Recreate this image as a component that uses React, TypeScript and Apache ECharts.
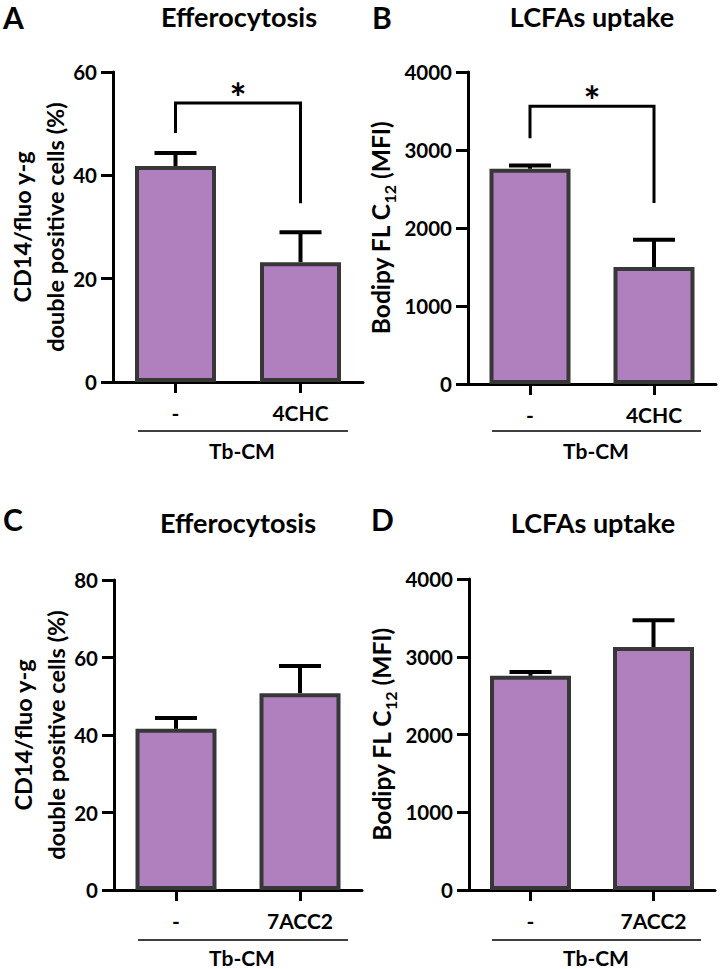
import React, { useEffect, useRef } from "react";
import * as echarts from "echarts";

// ---------- data ----------
const categoriesTop = ["-", "4CHC"];
const categoriesBottom = ["-", "7ACC2"];

const effMeanA = [41.8, 23.2];
const effErrA = [2.5, 5.8];
const lcfaMeanB = [2760, 1500];
const lcfaErrB = [40, 350];
const effMeanC = [41.6, 50.8];
const effErrC = [2.8, 7.0];
const lcfaMeanD = [2755, 3125];
const lcfaErrD = [48, 345];

// significance brackets: [left leg bottom, bracket top, right leg bottom]
const bracketA = [48.2, 54.0, 34.6];
const bracketB = [3150, 3560, 2320];

const panelLetters = ["A", "B", "C", "D"];
const panelTitles = ["Efferocytosis", "LCFAs uptake", "Efferocytosis", "LCFAs uptake"];
const groupLabel = "Tb-CM";
const effAxisName = "CD14/fluo y-g\ndouble positive cells (%)";
const lcfaAxisName = "Bodipy FL C{sub|12} (MFI)";
const sigLabel = "*";

const yRanges = [
  { min: 0, max: 60, interval: 20 },
  { min: 0, max: 4000, interval: 1000 },
  { min: 0, max: 80, interval: 20 },
  { min: 0, max: 4000, interval: 1000 },
];

// ---------- style ----------
const FONT = "Lato, 'Open Sans', sans-serif";
const BAR_FILL = "#b07fbe";
const BAR_BORDER = "#373737";

const grids = [
  { left: 113, top: 72, width: 250, height: 310 },
  { left: 468, top: 72, width: 248, height: 312 },
  { left: 114, top: 580, width: 248, height: 310 },
  { left: 469, top: 579, width: 246, height: 311 },
];

const letterPos = [
  [3, 17],
  [372, 17],
  [3, 519],
  [371, 519],
];
const titlePos = [
  [239, 16.5],
  [592, 16.5],
  [238, 522],
  [593, 522],
];
const groupLinePos = [
  [138, 348, 431],
  [492, 701, 431],
  [138, 348, 940],
  [492, 701, 940],
];
const groupLabelPos = [
  [242, 450],
  [596, 450],
  [242, 957],
  [596, 957],
];

function errorRender(params: any, api: any) {
  const x = api.value(0);
  const m = api.value(1);
  const e = api.value(2);
  const base = api.coord([x, m]);
  const top = api.coord([x, m + e]);
  const half = 21;
  const st = { stroke: "#000", lineWidth: 4, fill: null };
  return {
    type: "group",
    children: [
      { type: "line", shape: { x1: base[0], y1: base[1], x2: top[0], y2: top[1] }, style: st },
      { type: "line", shape: { x1: top[0] - half, y1: top[1], x2: top[0] + half, y2: top[1] }, style: st },
    ],
  };
}

function bracketRender(params: any, api: any) {
  const lb = api.coord([0, api.value(1)]);
  const tl = api.coord([0, api.value(2)]);
  const tr = api.coord([1, api.value(2)]);
  const rb = api.coord([1, api.value(3)]);
  return {
    type: "group",
    children: [
      {
        type: "polyline",
        shape: { points: [lb, tl, tr, rb] },
        style: { stroke: "#000", lineWidth: 3, fill: null },
      },
      {
        type: "text",
        x: (tl[0] + tr[0]) / 2,
        y: tl[1] - 5,
        style: {
          text: sigLabel,
          fontSize: 40,
          fontWeight: "bold",
          fontFamily: FONT,
          fill: "#000",
          align: "center",
          verticalAlign: "middle",
          lineHeight: 24,
        },
      },
    ],
  };
}

export default function App() {
  const ref = useRef<HTMLDivElement>(null);

  useEffect(() => {
    if (!ref.current) return;
    const chart = echarts.init(ref.current, undefined, { renderer: "svg" });

    const means = [effMeanA, lcfaMeanB, effMeanC, lcfaMeanD];
    const errs = [effErrA, lcfaErrB, effErrC, lcfaErrD];
    const cats = [categoriesTop, categoriesTop, categoriesBottom, categoriesBottom];
    const brackets: (number[] | null)[] = [bracketA, bracketB, null, null];
    const names = [effAxisName, lcfaAxisName, effAxisName, lcfaAxisName];
    const nameGaps = [42, 71, 42, 71];
    const nameSizes = [23.5, 24.5, 23.5, 24.5];

    const axisLine = { show: true, lineStyle: { color: "#000", width: 3 } };
    const labelStyle = { color: "#000", fontSize: 20, fontWeight: "bold" as const, fontFamily: FONT };

    const xAxis = cats.map((c, i) => ({
      type: "category",
      gridIndex: i,
      data: c,
      axisLine,
      axisTick: { show: true, alignWithLabel: true, length: 11, lineStyle: { color: "#000", width: 3 } },
      axisLabel: { ...labelStyle, fontSize: 21, margin: 20 },
      splitLine: { show: false },
    }));

    const yAxis = yRanges.map((r, i) => ({
      type: "value",
      gridIndex: i,
      min: r.min,
      max: r.max,
      interval: r.interval,
      axisLine,
      axisTick: { show: true, length: 12, lineStyle: { color: "#000", width: 3 } },
      axisLabel: { ...labelStyle, fontSize: 20.5, margin: 16, formatter: (v: number) => String(v) },
      splitLine: { show: false },
      name: names[i],
      nameLocation: "middle",
      nameRotate: 90,
      nameGap: nameGaps[i],
      nameMoveOverlap: false,
      nameTextStyle: {
        color: "#000",
        fontSize: nameSizes[i],
        fontWeight: "bold",
        fontFamily: FONT,
        lineHeight: 33,
        rich: {
          sub: {
            color: "#000",
            fontSize: 16,
            fontWeight: "bold",
            fontFamily: FONT,
            verticalAlign: "bottom",
            lineHeight: 15,
          },
        },
      },
    }));

    const series: any[] = [];
    means.forEach((m, i) => {
      series.push({
        type: "bar",
        xAxisIndex: i,
        yAxisIndex: i,
        data: m,
        barWidth: 81,
        itemStyle: { color: BAR_FILL, borderColor: BAR_BORDER, borderWidth: 4 },
        z: 2,
      });
      series.push({
        type: "custom",
        xAxisIndex: i,
        yAxisIndex: i,
        data: m.map((v, k) => [k, v, errs[i][k]]),
        encode: { x: 0, y: 1 },
        renderItem: errorRender,
        z: 3,
      });
      const b = brackets[i];
      if (b) {
        series.push({
          type: "custom",
          xAxisIndex: i,
          yAxisIndex: i,
          data: [[0, b[0], b[1], b[2]]],
          encode: { x: 0, y: [1, 2, 3] },
          renderItem: bracketRender,
          z: 3,
        });
      }
    });

    const graphic: any[] = [];
    panelLetters.forEach((l, i) => {
      graphic.push({
        type: "text",
        x: letterPos[i][0],
        y: letterPos[i][1],
        style: { text: l, fontSize: 30, fontWeight: "bold", fontFamily: FONT, fill: "#000", align: "left", verticalAlign: "middle", lineHeight: 26 },
      });
      graphic.push({
        type: "text",
        x: titlePos[i][0],
        y: titlePos[i][1],
        style: { text: panelTitles[i], fontSize: 27, fontWeight: "bold", fontFamily: FONT, fill: "#000", align: "center", verticalAlign: "middle", lineHeight: 22 },
      });
      graphic.push({
        type: "line",
        shape: { x1: groupLinePos[i][0], y1: groupLinePos[i][2], x2: groupLinePos[i][1], y2: groupLinePos[i][2] },
        style: { stroke: "#000", lineWidth: 1.5 },
      });
      graphic.push({
        type: "text",
        x: groupLabelPos[i][0],
        y: groupLabelPos[i][1],
        style: { text: groupLabel, fontSize: 21, fontWeight: "bold", fontFamily: FONT, fill: "#000", align: "center", verticalAlign: "middle", lineHeight: 20 },
      });
    });

    chart.setOption({
      animation: false,
      backgroundColor: "#ffffff",
      grid: grids.map((g) => ({ ...g, containLabel: false, outerBoundsMode: "none" })),
      xAxis,
      yAxis,
      series,
      graphic,
    });

    return () => chart.dispose();
  }, []);

  return (
    <div
      ref={ref}
      style={{ position: "absolute", left: 0, top: 0, width: 721, height: 969, background: "#fff" }}
    />
  );
}
